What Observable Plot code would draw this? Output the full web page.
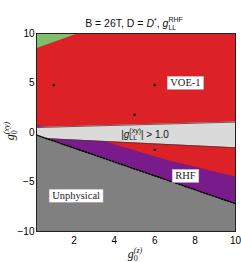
<!DOCTYPE html>
<html><head><meta charset="utf-8">
<script src="https://cdn.jsdelivr.net/npm/d3@7"></script>
<script src="https://cdn.jsdelivr.net/npm/@observablehq/plot@0.6"></script>
<style>body{margin:0;background:#fff}</style>
</head><body><div id="chart"></div>
<script>
const xDomain = [0.14, 10];
const yDomain = [-10, 10];
const xTicks = [2, 4, 6, 8, 10];
const yTicks = [-10, -5, 0, 5, 10];
// region boundaries
const greenX = [0.14, 2.25];
const greenY = [8.45, 10];
const bandX = [0.14, 10];
const bandTop = [0.5, 1.05];
const bandBottom = [-0.57, -1.55];
const rhfX = [0.14, 3.64, 6.6, 10];
const rhfTop = [0.72, -1.0, -2.8, -4.5];
const unphysX = [0.14, 10];
const unphysY = [-0.26, -7.19];
const dotX = [1, 6, 5, 6];
const dotY = [4.8, 4.8, 1.8, -1.75];
const labels = ["VOE-1", "RHF", "Unphysical"];
const labelX = [7.52, 7.52, 2.1];
const labelY = [5.0, -4.4, -6.4];
const colors = {red: "#dc2127", purple: "#7a1b8b", green: "#80bd6c", band: "#dadada", gray: "#808080"};

const green = greenX.map((x, i) => ({x, y: greenY[i]}));
const band = bandX.map((x, i) => ({x, top: bandTop[i], bottom: bandBottom[i]}));
const rhf = rhfX.map((x, i) => ({x, y: rhfTop[i]}));
const unphys = unphysX.map((x, i) => ({x, y: unphysY[i]}));
const dots = dotX.map((x, i) => ({x, y: dotY[i]}));
const labs = labels.map((t, i) => ({t, x: labelX[i], y: labelY[i]}));

const plot = Plot.plot({
  width: 241, height: 262,
  marginLeft: 36, marginRight: 6, marginTop: 33, marginBottom: 31,
  style: {fontFamily: "Liberation Sans", fontSize: "10px", background: "#fff"},
  x: {domain: xDomain, ticks: xTicks, tickSize: 0, tickPadding: 5, label: null},
  y: {domain: yDomain, ticks: yTicks, tickSize: 0, tickPadding: 2, label: null},
  marks: [
    Plot.frame({fill: colors.red}),
    Plot.areaY(rhf, {x: "x", y1: yDomain[0], y2: "y", fill: colors.purple}),
    Plot.areaY(band, {x: "x", y1: "bottom", y2: "top", fill: colors.band}),
    Plot.line(band, {x: "x", y: "top", stroke: "#5a3030", strokeWidth: 0.8}),
    Plot.line(band, {x: "x", y: "bottom", stroke: "#5a3030", strokeWidth: 0.8}),
    Plot.areaY(unphys, {x: "x", y1: yDomain[0], y2: "y", fill: colors.gray}),
    Plot.line(unphys, {x: "x", y: "y", stroke: "#000", strokeWidth: 1.5, strokeDasharray: "1.6,1.6"}),
    Plot.areaY(green, {x: "x", y1: "y", y2: yDomain[1], fill: colors.green}),
    Plot.dot(dots, {x: "x", y: "y", r: 1.2, fill: "#000"}),
    Plot.text(labs, {x: "x", y: "y", text: "t", fontFamily: "Liberation Serif", fontSize: 10.5, fill: "#222"}),
    Plot.frame({stroke: "#222", strokeWidth: 1})
  ]
});
document.getElementById("chart").appendChild(plot);

// white boxes behind region labels
d3.select(plot).selectAll("text").each(function () {
  if (labels.includes(this.textContent)) {
    const b = this.getBBox();
    const r = document.createElementNS("http://www.w3.org/2000/svg", "rect");
    r.setAttribute("x", b.x - 3);
    r.setAttribute("y", b.y + b.height / 2 - 6.5);
    r.setAttribute("width", b.width + 6);
    r.setAttribute("height", 13);
    r.setAttribute("fill", "#fff");
    r.setAttribute("stroke", "#bbb");
    r.setAttribute("stroke-width", 0.5);
    if (this.getAttribute("transform")) r.setAttribute("transform", this.getAttribute("transform"));
    this.parentNode.insertBefore(r, this);
  }
});

const svg = d3.select(plot);
function subSup(textSel, base, sub, sup, size, italicBase, supItalic) {
  textSel.append("tspan").attr("font-style", italicBase ? "italic" : null).text(base);
  const s1 = textSel.append("tspan").attr("dy", 2.8).attr("font-size", size).text(sub);
  const len = s1.node().getComputedTextLength();
  textSel.append("tspan").attr("dx", -len).attr("dy", -7.5).attr("font-size", size)
    .attr("font-style", supItalic ? "italic" : null).text(sup);
}
// title
const title = svg.append("text").attr("x", 134).attr("y", 27).attr("text-anchor", "middle")
  .attr("font-family", "Liberation Sans").attr("font-size", 10.5).attr("fill", "#111");
title.append("tspan").text("B = 26T, D = ");
title.append("tspan").attr("font-style", "italic").text("D");
title.append("tspan").attr("dy", -4).attr("font-size", 7).text("*");
title.append("tspan").attr("dy", 4).text(", ");
subSup(title, "g", "LL", "RHF", 7, true, false);

// x label
const xl = svg.append("text").attr("x", 135).attr("y", 258).attr("text-anchor", "middle")
  .attr("font-family", "Liberation Serif").attr("font-size", 12).attr("fill", "#111");
subSup(xl, "g", "0", "(z)", 8, true, true);

// y label
const yl = svg.append("text").attr("transform", "translate(14,131) rotate(-90)").attr("text-anchor", "middle")
  .attr("font-family", "Liberation Serif").attr("font-size", 12).attr("fill", "#111");
subSup(yl, "g", "0", "(xy)", 8, true, true);

// band label
const bl = svg.append("text").attr("x", 145).attr("y", 137.5).attr("text-anchor", "middle")
  .attr("font-family", "Liberation Sans").attr("font-size", 10).attr("fill", "#111");
bl.append("tspan").text("|");
subSup(bl, "g", "LL", "(xy)", 7, true, false);
bl.append("tspan").attr("dy", 4.7).text("| > 1.0");
</script>
</body></html>
